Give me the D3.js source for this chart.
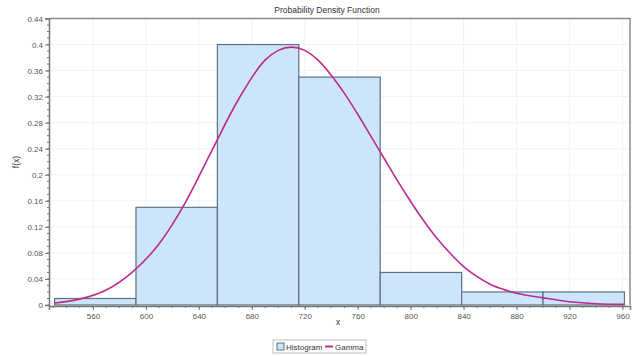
<!DOCTYPE html>
<html><head><meta charset="utf-8">
<script src="https://cdn.jsdelivr.net/npm/d3@7"></script>
<style>body{margin:0;background:#fff;}svg{display:block;font-family:"Liberation Sans",Arial,sans-serif;}</style>
</head><body><svg id="c" width="636" height="356"></svg>
<script>
const binEdges = [531, 592.5, 654, 715.5, 777, 838.5, 900, 961.5];
const binValues = [0.01, 0.15, 0.40, 0.35, 0.05, 0.02, 0.02];
const curveX = [531, 550, 570, 590, 610, 630, 650, 670, 690, 700, 710, 720, 730, 740, 750, 760, 770, 780, 790, 800, 810, 820, 830, 840, 850, 860, 870, 880, 900, 920, 940, 961];
const curveY = [0.003, 0.009, 0.023, 0.051, 0.094, 0.158, 0.238, 0.316, 0.376, 0.391, 0.396, 0.391, 0.376, 0.353, 0.325, 0.293, 0.259, 0.225, 0.191, 0.159, 0.129, 0.102, 0.079, 0.059, 0.044, 0.032, 0.024, 0.018, 0.011, 0.005, 0.002, 0.001];
const xTicks = [560, 600, 640, 680, 720, 760, 800, 840, 880, 920, 960];
const yTicks = [0, 0.04, 0.08, 0.12, 0.16, 0.2, 0.24, 0.28, 0.32, 0.36, 0.4, 0.44];
const yTickLabels = ["0", "0.04", "0.08", "0.12", "0.16", "0.2", "0.24", "0.28", "0.32", "0.36", "0.4", "0.44"];

const svg = d3.select("#c");
const L = 49, R = 630, T = 18.5, B = 305;
const x = d3.scaleLinear().domain([526.8, 965.7]).range([L, R]);
const y = d3.scaleLinear().domain([0, 0.44]).range([B, T]);

// grid
const g = svg.append("g");
g.selectAll("line.vg").data(xTicks).join("line")
  .attr("x1", d => x(d)).attr("x2", d => x(d)).attr("y1", T).attr("y2", B)
  .attr("stroke", "#f0f2f4").attr("stroke-width", 1);
g.selectAll("line.hg").data(yTicks).join("line")
  .attr("x1", L).attr("x2", R).attr("y1", d => y(d)).attr("y2", d => y(d))
  .attr("stroke", "#f0f2f4").attr("stroke-width", 1);

// bars
const bins = binValues.map((v, i) => ({x0: binEdges[i], x1: binEdges[i + 1], v}));
svg.append("g").selectAll("rect").data(bins).join("rect")
  .attr("x", d => x(d.x0)).attr("width", d => x(d.x1) - x(d.x0))
  .attr("y", d => y(d.v)).attr("height", d => y(0) - y(d.v))
  .attr("fill", "#cde5fa").attr("stroke", "#5d7181").attr("stroke-width", 1.2);

// curve
const pts = curveX.map((v, i) => [v, curveY[i]]);
svg.append("path").datum(pts)
  .attr("d", d3.line().x(d => x(d[0])).y(d => y(d[1])).curve(d3.curveMonotoneX))
  .attr("fill", "none").attr("stroke", "#bd2a8c").attr("stroke-width", 1.6);

// frame top/right
svg.append("path").attr("d", `M${L},${T}H${R}V${B}`).attr("fill", "none")
  .attr("stroke", "#8a8a8a").attr("stroke-width", 1.5);

// axes
const ya = svg.append("g").attr("transform", `translate(${L},0)`)
  .call(d3.axisLeft(y).tickValues(yTicks).tickFormat((d, i) => yTickLabels[i]).tickSize(4).tickPadding(2));
ya.append("g").selectAll("line").data(d3.range(0, 0.441, 0.01)).join("line")
  .attr("x1", 0).attr("x2", -2).attr("y1", d => y(d)).attr("y2", d => y(d)).attr("stroke", "#777");
const xa = svg.append("g").attr("transform", `translate(0,${B + 1})`)
  .call(d3.axisBottom(x).tickValues(xTicks).tickSize(4).tickPadding(3));
xa.append("g").selectAll("line").data(d3.range(530, 966, 10)).join("line")
  .attr("x1", d => x(d)).attr("x2", d => x(d)).attr("y1", 0).attr("y2", 2).attr("stroke", "#777");
[ya, xa].forEach(a => {
  a.select(".domain").attr("stroke", "#777").attr("stroke-width", 1.5);
  a.selectAll(".tick line").attr("stroke", "#777");
  a.selectAll("text").attr("font-size", 8).attr("fill", "#555").attr("font-family", "Liberation Sans, Arial, sans-serif");
});

// titles
svg.append("text").attr("x", 327).attr("y", 13).attr("text-anchor", "middle")
  .attr("font-size", 8.5).attr("fill", "#333").text("Probability Density Function");
svg.append("text").attr("transform", "translate(19,162) rotate(-90)").attr("text-anchor", "middle")
  .attr("font-size", 8.5).attr("fill", "#333").text("f(x)");
svg.append("text").attr("x", 338).attr("y", 325).attr("text-anchor", "middle")
  .attr("font-size", 8.5).attr("fill", "#333").text("x");

// legend
const lg = svg.append("g").attr("transform", "translate(273,340)");
lg.append("rect").attr("x", 0).attr("y", 0).attr("width", 93).attr("height", 13)
  .attr("fill", "#fff").attr("stroke", "#bbb");
lg.append("rect").attr("x", 4).attr("y", 3).attr("width", 7).attr("height", 7)
  .attr("fill", "#cde5fa").attr("stroke", "#5d7181");
lg.append("text").attr("x", 13).attr("y", 9.5).attr("font-size", 8).attr("fill", "#333").text("Histogram");
lg.append("line").attr("x1", 52).attr("x2", 60).attr("y1", 6.5).attr("y2", 6.5)
  .attr("stroke", "#bd2a8c").attr("stroke-width", 2);
lg.append("text").attr("x", 62).attr("y", 9.5).attr("font-size", 8).attr("fill", "#333").text("Gamma");
</script></body></html>
